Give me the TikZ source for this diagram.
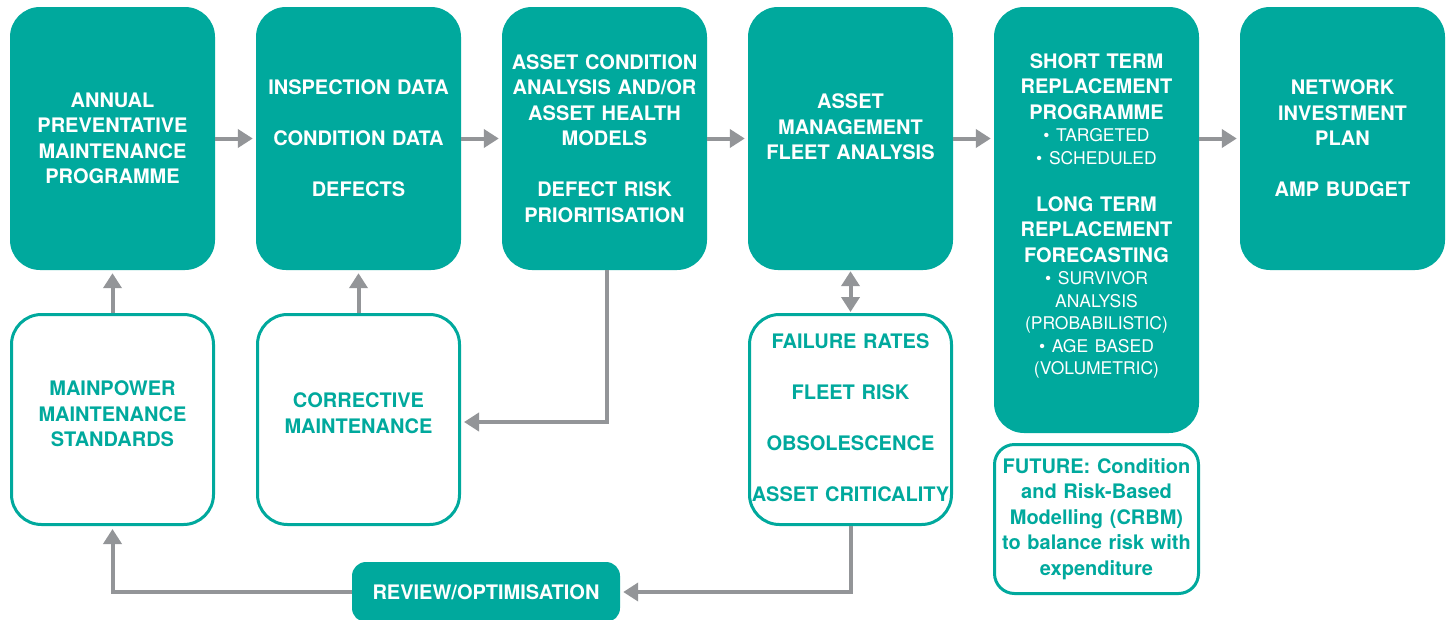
\documentclass[tikz,border=0pt]{standalone}
\usepackage{fontspec}
\setmainfont{TeX Gyre Heros}
\usetikzlibrary{arrows.meta}
\definecolor{mpteal}{HTML}{00A99D}
\definecolor{mpgrey}{HTML}{939598}
\newcommand{\bigtxt}{\bfseries\fontsize{20}{25.5}\selectfont}
\newcommand{\smalltxt}{\mdseries\fontsize{17.5}{22.5}\selectfont}
\begin{document}
\begin{tikzpicture}[x=1pt,y=-1pt,
  filled/.style={fill=mpteal, rounded corners=30pt, minimum width=205pt,
    minimum height=263pt, inner sep=0pt},
  outlined/.style={draw=mpteal, line width=3pt, fill=white, rounded corners=30pt,
    minimum width=202pt, minimum height=210pt, inner sep=0pt},
  txt/.style={text width=215pt, align=center, font=\bigtxt, inner sep=0pt,
    execute at begin node=\setlength{\parindent}{0pt}},
  wtxt/.style={txt, text=white},
  ttxt/.style={txt, text=mpteal},
  flow/.style={draw=mpgrey, line width=4pt, -{Triangle[length=15pt,width=18pt]},
    shorten >=3pt},
]
\clip (0,0) rectangle (1449,619);
\fill[white] (0,0) rectangle (1449,619);

% main process boxes
\node[filled] (b1) at (112.5,138.5) {};
\node[filled] (b2) at (358.5,138.5) {};
\node[filled] (b3) at (604.5,138.5) {};
\node[filled] (b4) at (850.5,138.5) {};
\node[filled, minimum height=426pt] (b5) at (1096.5,220) {};
\node[filled] (b6) at (1342.5,138.5) {};

% supporting inputs
\node[outlined] (sA) at (112.5,419.5) {};
\node[outlined] (sB) at (358.5,419.5) {};
\node[outlined] (sC) at (850.5,419.5) {};
\node[outlined, rounded corners=20pt, minimum width=204pt, minimum height=149pt] (sF) at (1096.5,519) {};
\node[fill=mpteal, rounded corners=14pt, minimum width=268pt, minimum height=60pt, inner sep=0pt] (rev) at (486,592) {};

% labels
\node[wtxt] (t1) at (b1) {ANNUAL\\PREVENTATIVE\\MAINTENANCE\\PROGRAMME};
\node[wtxt] (t2) at (b2) {INSPECTION DATA\\[25.5pt]CONDITION DATA\\[25.5pt]DEFECTS};
\node[wtxt] (t3) at (b3) {ASSET CONDITION\\ANALYSIS AND/OR\\ASSET HEALTH\\MODELS\\[25.5pt]DEFECT RISK\\PRIORITISATION};
\node[wtxt] (t4) at ([yshift=11.5pt]b4.center) {ASSET\\MANAGEMENT\\FLEET ANALYSIS};
\node[wtxt] (t5) at ([yshift=4pt]b5.center) {%
  {\bigtxt SHORT TERM\\REPLACEMENT\\PROGRAMME\par}%
  {\smalltxt • TARGETED\\• SCHEDULED\par}%
  \vspace{21.5pt}%
  {\bigtxt LONG TERM\\REPLACEMENT\\FORECASTING\par}%
  {\smalltxt • SURVIVOR\\ANALYSIS\\(PROBABILISTIC)\\• AGE BASED\\(VOLUMETRIC)\par}};
\node[wtxt] (t6) at (b6) {NETWORK\\INVESTMENT\\PLAN\\[25.5pt]AMP BUDGET};
\node[ttxt] (tA) at ([yshift=5.5pt]sA.center) {MAINPOWER\\MAINTENANCE\\STANDARDS};
\node[ttxt] (tB) at ([yshift=6.5pt]sB.center) {CORRECTIVE\\MAINTENANCE};
\node[ttxt] (tC) at ([yshift=2pt]sC.center) {FAILURE RATES\\[25.5pt]FLEET RISK\\[25.5pt]OBSOLESCENCE\\[25.5pt]ASSET CRITICALITY};
\node[ttxt] (tF) at (sF) {FUTURE: Condition\\and Risk-Based\\Modelling (CRBM)\\to balance risk with\\expenditure};
\node[text=white, font=\bigtxt, inner sep=0pt] (tR) at (rev) {REVIEW/OPTIMISATION};

% connectors
\draw[flow] (b1.east) -- (b2.west);
\draw[flow] (b2.east) -- (b3.west);
\draw[flow] (b3.east) -- (b4.west);
\draw[flow] (b4.east) -- (b4.east -| b5.west);
\draw[flow] (b5.east |- b6.west) -- (b6.west);
\draw[flow] (sA.north) -- (b1.south);
\draw[flow] (sB.north) -- (b2.south);
\draw[flow] ([xshift=2.5pt]b3.south) |- ([yshift=-2.5pt]sB.east);
\draw[flow, {Triangle[length=15pt,width=18pt]}-{Triangle[length=15pt,width=18pt]},
  shorten <=1pt, shorten >=1pt] (b4.south) -- (sC.north);
\draw[flow] (sC.south) |- (rev.east);
\draw[flow] (rev.west) -| (sA.south);
\end{tikzpicture}
\end{document}
